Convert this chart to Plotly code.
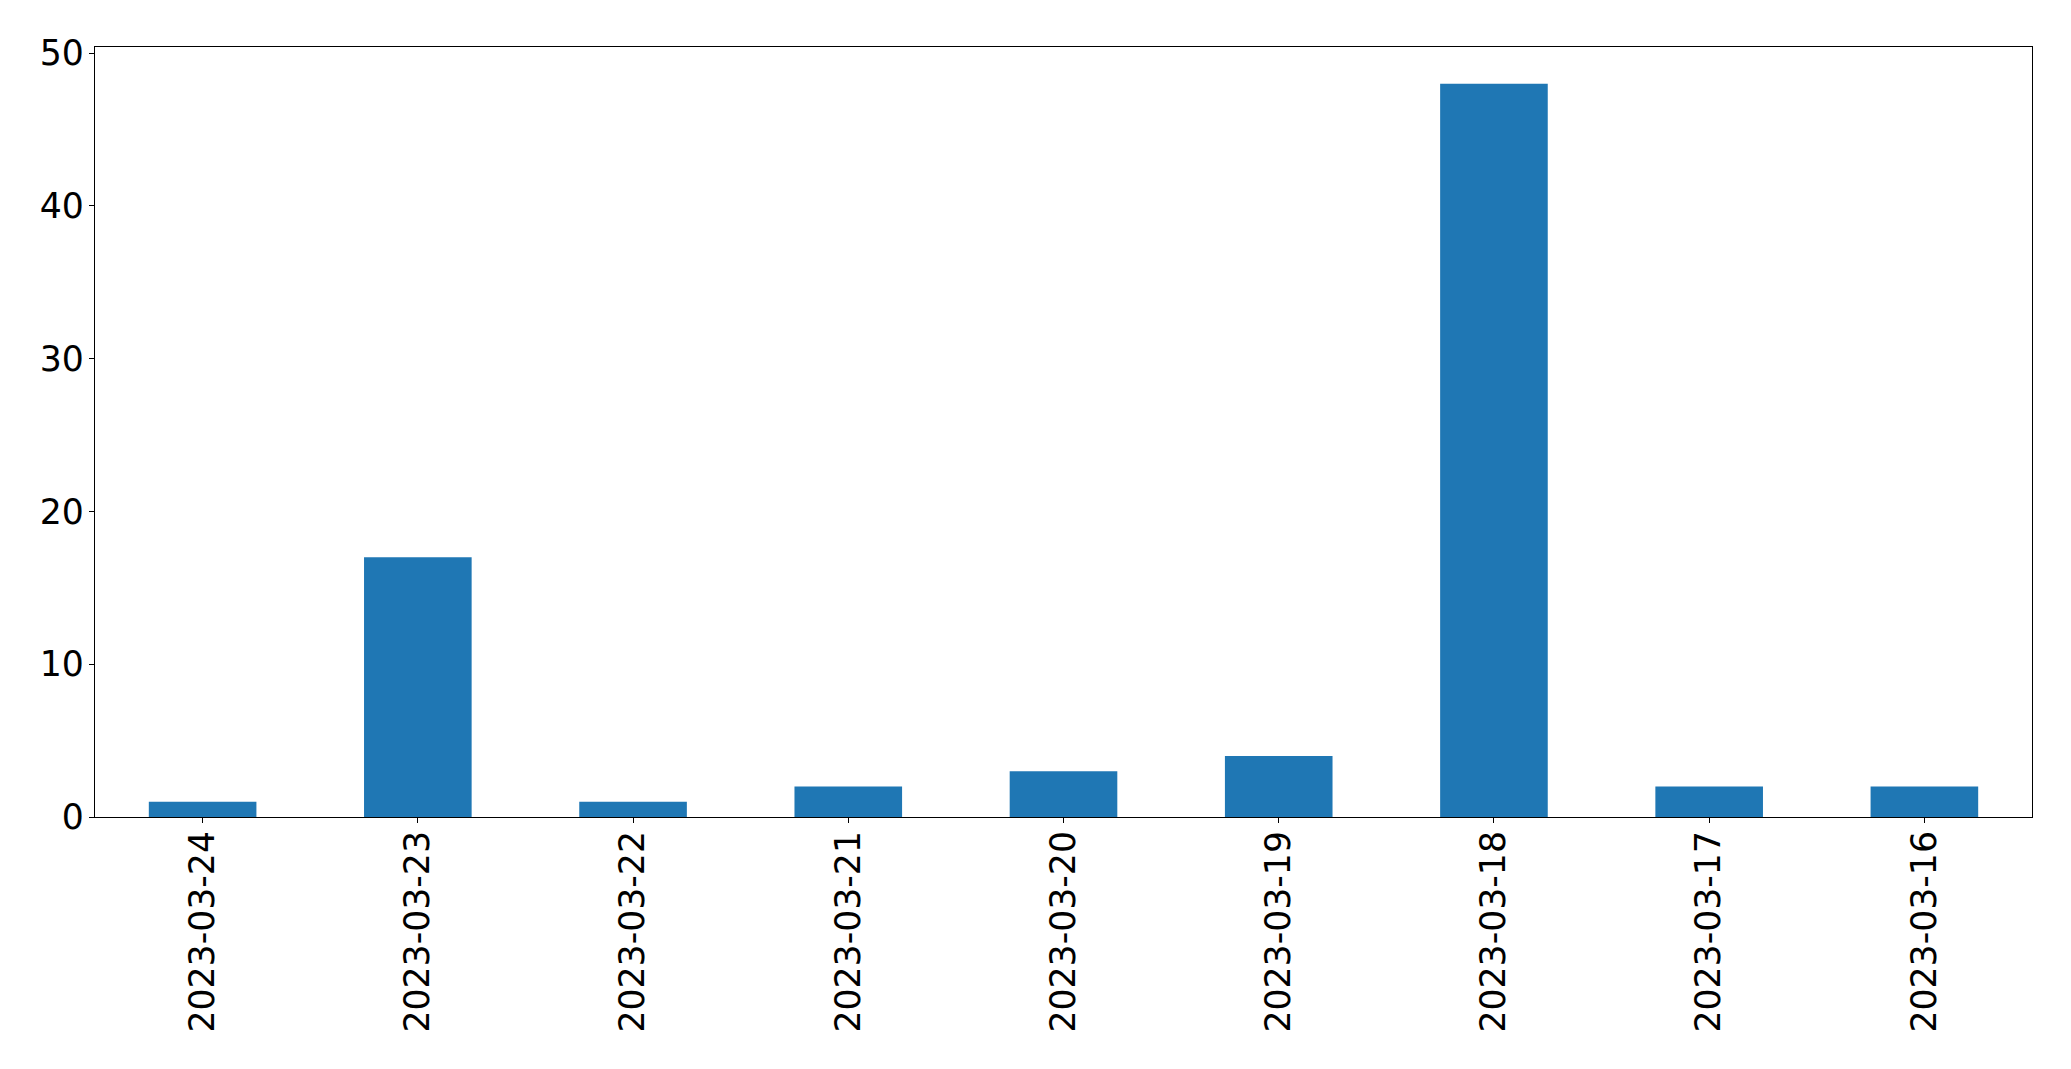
import plotly.graph_objects as go

dates = ["2023-03-24", "2023-03-23", "2023-03-22", "2023-03-21", "2023-03-20",
         "2023-03-19", "2023-03-18", "2023-03-17", "2023-03-16"]
counts = [1, 17, 1, 2, 3, 4, 48, 2, 2]
y_ticks = [0, 10, 20, 30, 40, 50]

# page body has an 8px margin; compensate so plot area lands where the reference has it
OFF = 8
W, H = 2071 - 2 * OFF, 1069 - 2 * OFF
L, R, T, B = 95 - OFF, 2031.7 - OFF, 47.3 - OFF, 817.3 - OFF

fig = go.Figure(go.Bar(x=dates, y=counts, marker=dict(color="#1f77b4", line=dict(width=0)),
                       width=0.5))

font = dict(family="DejaVu Sans", size=34.7, color="black")
axis_common = dict(showline=True, linecolor="black", linewidth=1.3, mirror=True,
                   ticks="outside", ticklen=5, tickwidth=1.3, tickcolor="black",
                   showgrid=False, zeroline=False, tickfont=font)

fig.update_layout(
    width=W, height=H,
    margin=dict(l=L, r=W - R, t=T, b=H - B, pad=0),
    paper_bgcolor="white", plot_bgcolor="white",
    showlegend=False,
    xaxis=dict(type="category", range=[-0.5, len(dates) - 0.5], tickangle=-90,
               ticklabelstandoff=-6, **axis_common),
    yaxis=dict(range=[0, 50.4], tickvals=y_ticks, ticklabelstandoff=-2, **axis_common),
)

fig.write_html("out.html")
